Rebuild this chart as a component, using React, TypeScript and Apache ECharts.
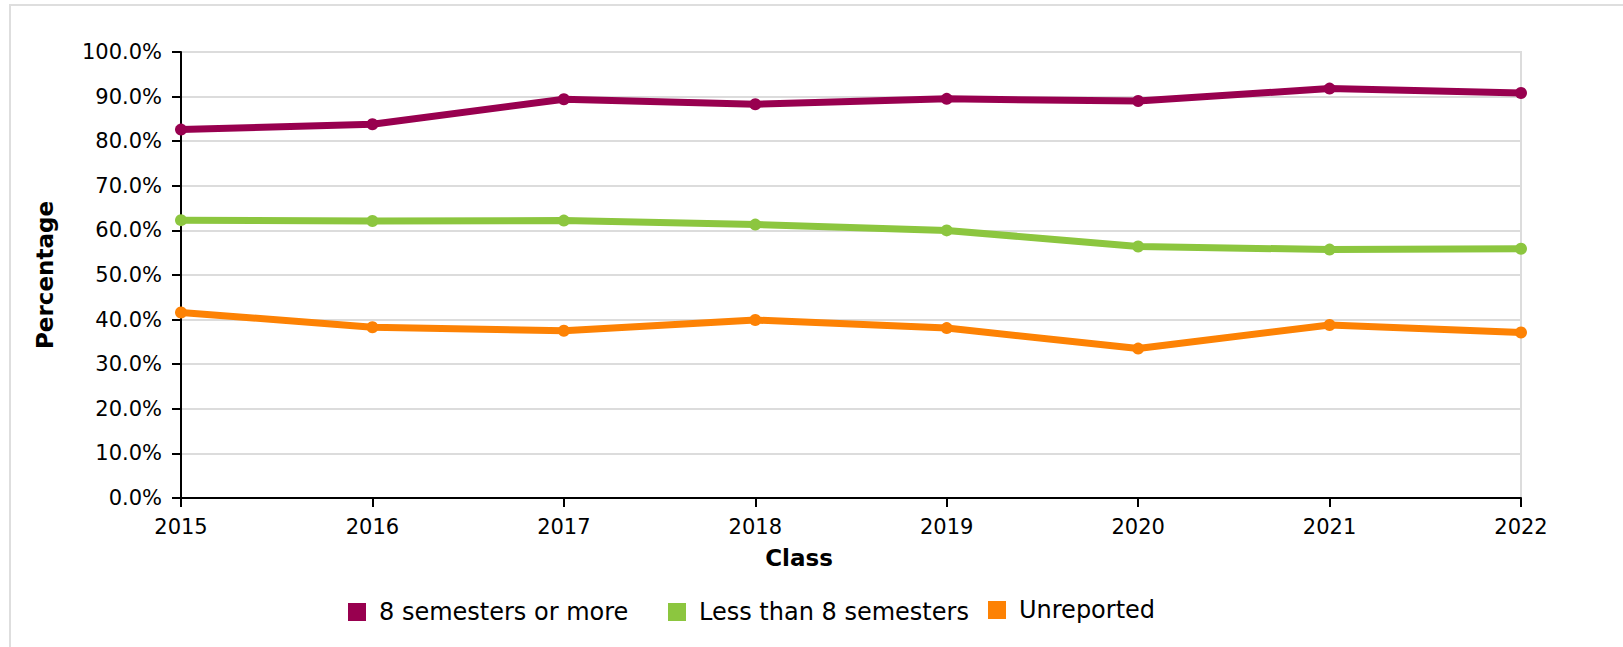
import React, { useEffect, useRef } from "react";
import * as echarts from "echarts";

const classes = ["2015", "2016", "2017", "2018", "2019", "2020", "2021", "2022"];
const eightOrMore = [82.6, 83.8, 89.4, 88.3, 89.5, 89.0, 91.8, 90.8];
const lessThanEight = [62.3, 62.1, 62.2, 61.3, 60.0, 56.4, 55.7, 55.9];
const unreported = [41.6, 38.3, 37.5, 39.9, 38.1, 33.5, 38.8, 37.1];
const seriesNames = ["8 semesters or more", "Less than 8 semesters", "Unreported"];
const colors = ["#98004f", "#8cc63f", "#fd8204"];
const yTicks = { min: 0, max: 100, interval: 10 };

const FONT = "DejaVu Sans";

export default function App() {
  const ref = useRef<HTMLDivElement>(null);
  useEffect(() => {
    document.body.style.margin = "0";
    const chart = echarts.init(ref.current!, null, { renderer: "svg" });
    const values = [eightOrMore, lessThanEight, unreported];
    const legendLeft = [348, 668, 988];
    const legendTop = [600, 600, 598];
    chart.setOption({
      animation: false,
      backgroundColor: "#ffffff",
      textStyle: { fontFamily: FONT },
      graphic: [
        {
          type: "rect",
          shape: { x: 10, y: 5, width: 1700, height: 700 },
          style: { fill: "none", stroke: "#dedede", lineWidth: 2 },
          silent: true,
        },
        {
          type: "text",
          x: 799,
          y: 558,
          style: {
            text: "Class",
            fontFamily: FONT,
            fontWeight: "bold",
            fontSize: 23,
            fill: "#000",
            align: "center",
            verticalAlign: "middle",
          },
        },
      ],
      legend: seriesNames.map((n, i) => ({
        data: [n],
        left: legendLeft[i],
        top: legendTop[i],
        padding: 0,
        icon: "rect",
        itemWidth: 18,
        itemHeight: 18,
        textStyle: { fontFamily: FONT, fontSize: 24, color: "#000", padding: [0, 0, 0, 8] },
        selectedMode: false,
      })),
      grid: {
        left: 181,
        right: 102,
        top: 52,
        bottom: 149,
        show: true,
        borderColor: "#dcdcdc",
        borderWidth: 2,
        containLabel: false,
      },
      xAxis: {
        type: "category",
        data: classes,
        boundaryGap: false,
        axisLine: { lineStyle: { color: "#000", width: 2 } },
        axisTick: { alignWithLabel: true, length: 9, lineStyle: { color: "#000", width: 2 } },
        axisLabel: { color: "#000", fontSize: 21, fontFamily: FONT, margin: 18 },
        splitLine: { show: false },
      },
      yAxis: {
        type: "value",
        min: yTicks.min,
        max: yTicks.max,
        interval: yTicks.interval,
        name: "Percentage",
        nameLocation: "middle",
        nameGap: 125,
        nameTextStyle: { fontFamily: FONT, fontWeight: "bold", fontSize: 23, color: "#000" },
        axisLine: { show: true, lineStyle: { color: "#000", width: 2 } },
        axisTick: { show: true, length: 9, lineStyle: { color: "#000", width: 2 } },
        axisLabel: {
          color: "#000",
          fontSize: 21,
          fontFamily: FONT,
          margin: 19,
          formatter: (v: number) => v.toFixed(1) + "%",
        },
        splitLine: { show: true, lineStyle: { color: "#dcdcdc", width: 2 } },
      },
      series: seriesNames.map((n, i) => ({
        name: n,
        type: "line",
        data: values[i],
        color: colors[i],
        symbol: "circle",
        symbolSize: 12,
        lineStyle: { width: 7, color: colors[i] },
        itemStyle: { color: colors[i] },
      })),
    });
    return () => chart.dispose();
  }, []);
  return <div ref={ref} style={{ width: 1623, height: 647 }} />;
}
